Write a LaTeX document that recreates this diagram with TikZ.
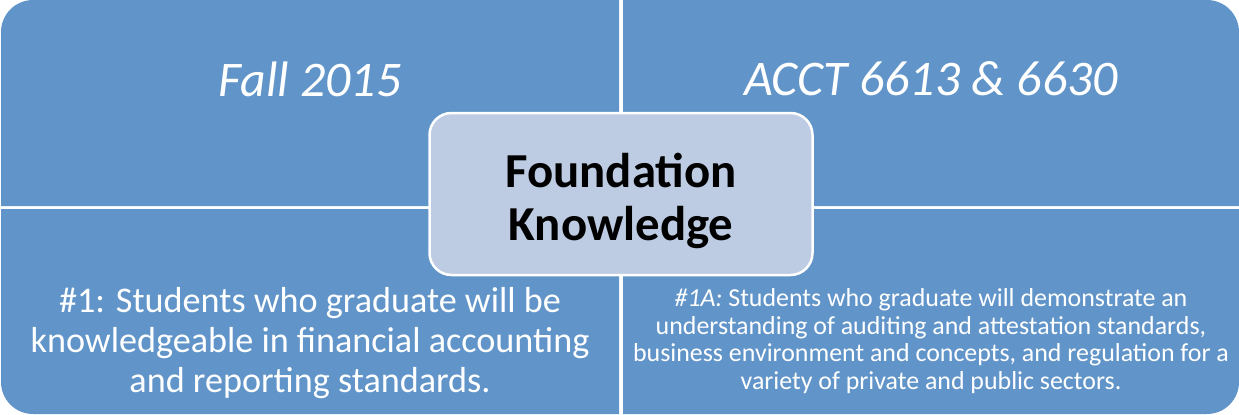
\documentclass[tikz,border=0pt]{standalone}
\usepackage{fontspec}
\setmainfont{Carlito}
\definecolor{quadblue}{RGB}{97,149,201}
\definecolor{hubfill}{RGB}{189,204,227}
\begin{document}
\begin{tikzpicture}[x=1bp,y=-1bp,
  quad/.style={fill=quadblue},
  headtext/.style={text=white,font=\fontsize{50}{56}\selectfont\itshape,inner sep=0},
  bodytext/.style={text=white,align=center,inner sep=0},
  hub/.style={draw=white,line width=2.5bp,fill=hubfill,rounded corners=22bp,
    minimum width=383bp,minimum height=162bp,align=center,
    font=\fontsize{49}{53}\selectfont\bfseries,text=black,inner sep=0}]
  \useasboundingbox (0,0) rectangle (1239,414);
  % four quadrants, each rounded at its outer corner
  \fill[quad] (1,206) [rounded corners=32bp] -- (1,0) [sharp corners] -- (619,0) -- (619,206) -- cycle;
  \fill[quad] (623,0) [rounded corners=32bp] -- (1239,0) [sharp corners] -- (1239,206) -- (623,206) -- cycle;
  \fill[quad] (619,209) -- (619,414) [rounded corners=32bp] -- (1,414) [sharp corners] -- (1,209) -- cycle;
  \fill[quad] (623,209) -- (1239,209) [rounded corners=32bp] -- (1239,414) [sharp corners] -- (623,414) -- cycle;
  % quadrant texts
  \node[headtext] (term) at (310,79) {Fall 2015};
  \node[headtext] (course) at (931,79) {ACCT 6613 \& 6630};
  \node[bodytext,font=\fontsize{36.3}{40}\selectfont] (goal) at (310,343)
    {\#1: Students who graduate will be\\knowledgeable in financial accounting\\and reporting standards.};
  \node[bodytext,font=\fontsize{26}{27.5}\selectfont] (goalA) at (931,341)
    {\textit{\#1A:} Students who graduate will demonstrate an\\understanding of auditing and attestation standards,\\business environment and concepts, and regulation for a\\variety of private and public sectors.};
  % central label
  \node[hub] (core) at (621,194) {};
  \node[font=\fontsize{49}{53}\selectfont\bfseries,align=center,inner sep=0] (corelabel) at (621,201) {Foundation\\Knowledge};
\end{tikzpicture}
\end{document}
